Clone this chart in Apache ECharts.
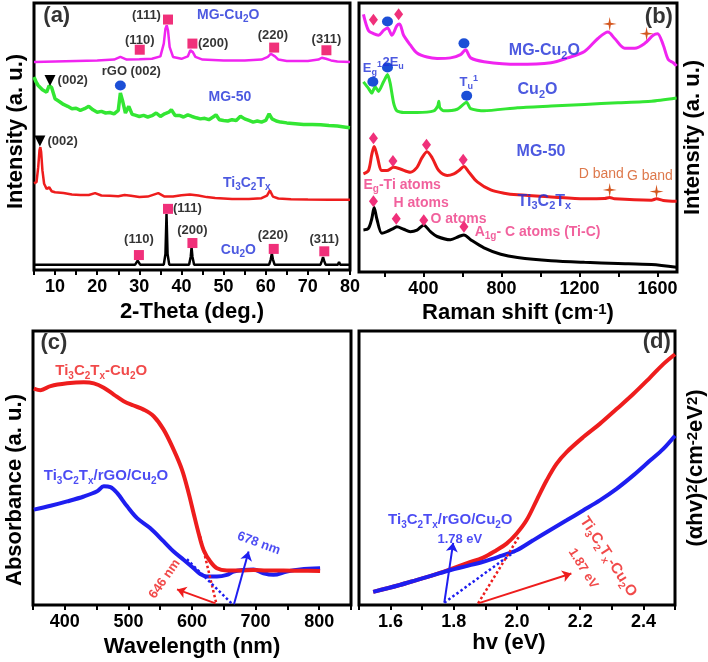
<!DOCTYPE html>
<html><head><meta charset="utf-8">
<script src="https://cdn.jsdelivr.net/npm/echarts@6/dist/echarts.min.js"></script>
<style>html,body{margin:0;padding:0;background:#fff}#c{width:708px;height:662px}</style>
</head><body><div id="c"></div>
<script>
// ---------- Panel (a): XRD ----------
const aCu2O_x = [5, 29.0, 29.6, 30.2, 35.8, 36.2, 36.45, 36.7, 37.1, 41.8, 42.2, 42.4, 42.6, 43.0, 60.8, 61.2, 61.45, 61.7, 62.1, 73.0, 73.35, 73.6, 73.85, 74.2, 77.1, 77.4, 77.7, 80];
const aCu2O_y = [2.0, 2.0, 3.5, 2.0, 2.0, 6, 21, 6, 2.0, 2.0, 5, 8.5, 5, 2.0, 2.0, 4, 6.2, 4, 2.0, 2.0, 3.5, 4.8, 3.5, 2.0, 2.0, 3.0, 2.0, 2.0];
const aTi_x = [5, 5.6, 6.0, 6.3, 6.5, 6.7, 7.0, 7.4, 8.0, 8.6, 9.2, 10, 12, 14, 16, 18, 19.5, 21, 23, 25, 26.5, 28, 30, 32, 34.5, 36, 38, 40, 42, 44, 46, 48, 52, 56, 59, 60.3, 61, 61.7, 63, 66, 70, 75, 80];
const aTi_y = [32.5, 32.9, 38.5, 44.8, 46, 44.1, 37.3, 32.3, 30.4, 31, 29.5, 29.1, 28.8, 28.3, 28.1, 28.1, 28.8, 27.9, 27.8, 27.6, 28.1, 27.8, 27.3, 27.5, 28.8, 27.5, 27.5, 28, 28.3, 27.9, 27.3, 27, 26.6, 26.6, 26.9, 27.9, 29.8, 27.5, 26.8, 26.5, 26.4, 26.3, 26.3];
const aMG50_x = [5, 5.5, 6, 7, 8, 8.6, 9.2, 10, 11, 12, 13, 14, 15, 16, 17, 18, 19, 20, 21, 22, 23, 24, 25, 25.5, 26, 26.7, 27.5, 28.3, 29, 30, 31, 32, 33, 34, 35, 36, 37, 37.6, 38.5, 39.5, 40.5, 41.5, 42.5, 43.5, 44.5, 45.5, 46.5, 47.5, 48.2, 49, 50, 51, 52, 53, 54, 55, 56, 57, 58, 59, 60, 60.8, 61.5, 62.5, 63.5, 65, 67, 69, 71, 73, 75, 77, 79, 80];
const aMG50_y = [72.3, 70.4, 69.1, 67.5, 66.6, 69.1, 68.3, 64.1, 63.1, 62, 61.3, 60.4, 60.6, 59.8, 60.4, 61.3, 60, 59.1, 59.4, 58.8, 59, 58.5, 59.8, 66.3, 63.5, 58.8, 61.3, 58.3, 58, 57.5, 57.9, 57.3, 57.8, 58.8, 57.5, 58.5, 59.1, 60, 57.9, 57.9, 57.3, 58.1, 57.5, 57, 56.6, 56.8, 56.3, 57.3, 58.1, 56.3, 56, 55.8, 56.3, 56, 57.6, 56.6, 56, 55.4, 55.8, 55.4, 56, 58.5, 56.6, 55.8, 55.4, 55.1, 54.8, 54.5, 54.5, 54.4, 54.1, 53.9, 53.5, 53.3];
const aMGCu_x = [5, 10, 15, 20, 24, 25.5, 27, 30, 33, 35, 35.8, 36.2, 36.5, 36.8, 37.2, 38, 40, 41.5, 42.1, 42.4, 42.7, 43.3, 45, 50, 55, 59, 60.5, 61.2, 61.6, 62.2, 63, 65, 70, 72.5, 73.3, 73.7, 74.3, 75.5, 77, 80];
const aMGCu_y = [77.9, 78.1, 78.3, 78.5, 78.8, 79.8, 78.8, 78.9, 79.1, 80, 84.8, 90.4, 91.6, 89.8, 83.5, 79.8, 79.1, 80, 82.3, 82.5, 81.6, 79.8, 78.8, 78.5, 78.5, 78.8, 79.8, 81, 81.3, 80, 78.8, 78.3, 78.3, 78.8, 79.5, 79.8, 79.1, 78.5, 78.1, 77.9];
const aSquares = [[30.1, 82.5], [36.8, 93.8], [42.6, 84.8], [62.0, 83.3], [74.4, 82.3], [29.9, 5.6], [36.8, 22.9], [42.6, 10.1], [61.9, 7.9], [73.9, 7.0]];
const aTriangles = [[8.8, 71], [6.4, 48.3]];
const aCircles = [[25.5, 69.1]];
const aTicks = [10, 20, 30, 40, 50, 60, 70, 80];

// ---------- Panel (b): Raman ----------
const bMGCu_x = [92.7, 118.4, 144.2, 169.9, 195.7, 216.3, 238.6, 264.4, 278.1, 298.7, 333, 367.4, 418.9, 470.4, 539.1, 590.6, 616.3, 642.1, 710.8, 882.5, 1054.2, 1140, 1225.9, 1294.6, 1346, 1380.5, 1431.9, 1483.4, 1534.9, 1577.9, 1600.2, 1629.4, 1655.1, 1680.9, 1698];
const bMGCu_y = [95.8, 89.8, 88.6, 88, 89.8, 90.7, 88, 91.6, 92.2, 88, 84.4, 81.4, 79.9, 79.4, 79.6, 80.8, 82.6, 79.6, 78.2, 77.2, 77.8, 79.6, 82, 86.8, 89.2, 86.8, 83.2, 83.2, 85, 88, 88.6, 84.4, 79, 77.8, 76.6];
const bCu2O_x = [92.7, 118.4, 135.6, 152.7, 169.9, 195.7, 216.3, 230, 247.2, 264.4, 298.7, 367.4, 453.2, 473.8, 479, 484.1, 504.7, 573.4, 621.5, 642.1, 710.8, 882.5, 1054.2, 1225.9, 1397.6, 1569.3, 1698];
const bCu2O_y = [70.7, 68.3, 66.5, 68.9, 67.1, 70.7, 73.4, 70.1, 62.9, 59.9, 59.3, 59.3, 59.9, 61.7, 63.5, 61.1, 59.9, 60.5, 63.1, 60.7, 59.9, 61.1, 61.7, 62.3, 62.9, 63.5, 64.7];
const bMG50_x = [92.7, 118.4, 135.6, 147.6, 161.3, 187.1, 212.8, 247.2, 281.5, 333, 367.4, 393.1, 418.9, 444.6, 479, 521.9, 556.2, 582, 607.8, 633.5, 676.4, 745.1, 813.8, 882.5, 1054.2, 1225.9, 1328.9, 1354.7, 1380.5, 1569.3, 1595, 1629.4, 1698];
const bMG50_y = [36.5, 37.7, 43.7, 46.7, 43.7, 37.7, 37.7, 38.9, 38.3, 37.1, 38.9, 42.5, 44.7, 42.5, 37.7, 35.9, 36.5, 37.7, 39.2, 37.1, 33.5, 30.5, 29.3, 28.7, 27.9, 27.2, 27.3, 27.7, 27.2, 26.7, 27.2, 26.6, 26.3];
const bTi_x = [92.7, 118.4, 135.6, 147.6, 161.3, 187.1, 212.8, 247.2, 264.4, 298.7, 333, 367.4, 401.7, 436.1, 470.4, 539.1, 582, 607.8, 642.1, 710.8, 796.6, 882.5, 1054.2, 1225.9, 1397.6, 1569.3, 1698];
const bTi_y = [15.6, 16.2, 19.8, 24, 19.8, 14.4, 15, 16.2, 16.8, 15.9, 15, 15.6, 17.4, 15, 13.2, 12, 13.2, 13.8, 12, 9, 6.6, 5.4, 4.2, 3.6, 3.2, 2.8, 1.8];
const bDiamonds = [[144, 93.8], [273, 95.8], [144, 49.7], [244, 41.3], [416, 47.3], [604, 41.7], [144, 26.3], [261, 19.8], [402, 19.2], [608, 16.8]];
const bCircles = [[216, 93.1], [608, 85], [141, 70.7], [216, 76], [622, 65.5]];
const bStars = [[1355, 92.2], [1544, 88.6], [1355, 30.5], [1595, 29.9]];
const bTickVals = [200, 400, 600, 800, 1000, 1200, 1400, 1600];
const bLabelVals = [400, 800, 1200, 1600];

// ---------- Panel (c): absorbance ----------
const cRed_x = [351.3, 361.9, 377.6, 403.7, 429.9, 445.6, 461.3, 477, 492.6, 508.3, 524, 539.7, 555.4, 571.1, 584.2, 594.7, 602.5, 610.4, 618.2, 628.7, 639.2, 654.9, 675.8, 696.7, 717.6, 743.8, 770, 801.4];
const cRed_y = [79, 78.4, 79.9, 80.9, 81.3, 80.9, 79.3, 76.8, 74.4, 72.8, 71.3, 68.9, 64, 56.7, 49.4, 40.9, 33.5, 26.2, 20.1, 15.9, 13.4, 12.6, 12.6, 12.8, 12.6, 12.6, 12.5, 12.4];
const cBlue_x = [351.3, 377.6, 403.7, 429.9, 450.9, 461.3, 471.7, 482.2, 498, 513.7, 534.5, 555.4, 571.1, 586.8, 602.5, 613, 623.5, 639.2, 654.9, 665.3, 681, 696.7, 712.4, 728.1, 749, 770, 801.4];
const cBlue_y = [34.8, 36.2, 37.8, 39.6, 41.5, 43.3, 43, 40.9, 36, 31.7, 28, 23.2, 19.5, 16.5, 13.4, 11.3, 10.4, 10.4, 11, 12.2, 12.8, 13, 11.6, 11, 12.2, 13, 13.4];
const cTangents = [[[613, 25], [638.5, 0.3], '#ee1d1d'], [[592, 16.7], [663, 0.4], '#1e1ef0']];
const cArrows = [[[637, 0.6], [576.5, 5.7], '#ee1d1d'], [[666, 0.3], [689, 19.5], '#1e1ef0']];

// ---------- Panel (d): Tauc plot ----------
const dRed_x = [1.545, 1.629, 1.682, 1.735, 1.788, 1.840, 1.893, 1.935, 1.967, 1.999, 2.030, 2.062, 2.094, 2.125, 2.157, 2.209, 2.262, 2.315, 2.368, 2.421, 2.463, 2.5];
const dRed_y = [4.8, 7.3, 9.1, 10.9, 13, 15.2, 17.3, 20, 22.4, 26.1, 30.9, 38.2, 45.5, 51.5, 55.8, 61.2, 66.1, 71.5, 77, 83, 87.9, 91.5];
const dBlue_x = [1.545, 1.629, 1.682, 1.735, 1.788, 1.840, 1.893, 1.946, 1.999, 2.051, 2.104, 2.157, 2.209, 2.262, 2.315, 2.368, 2.421, 2.463, 2.5];
const dBlue_y = [4.8, 7.3, 9.1, 10.9, 12.7, 14.2, 15.8, 17.8, 20, 23.6, 27.3, 30.9, 34.5, 38.2, 42.4, 47.3, 52.7, 57, 61.8];
const dTangents = [[[1.770, 0.85], [1.999, 20], '#1e1ef0'], [[1.877, 0.6], [2.009, 25.5], '#ee1d1d']];
const dArrows = [[[1.770, 0.85], [1.798, 22.7], '#1e1ef0'], [[1.877, 0.6], [2.172, 11.5], '#ee1d1d']];

// ---------- styles ----------
const FF = '"Liberation Sans", Arial, Helvetica, sans-serif';
const MAG = '#f024f0', GRN = '#33e633', RED = '#ee1d1d', BLK = '#000000', BLU = '#1e1ef0';
const TBLU = '#1f2fd8', PINK = '#f0307a', CIRC = '#1c4fd6', ORG = '#d4561e', PINKT = '#ee3a84';

function rt(s) {
  return s.replace(/([_^])(\{[^}]*\}|.)/g, (m, t, c) => {
    c = c[0] === '{' ? c.slice(1, -1) : c;
    return '{' + (t === '_' ? 'sub' : 'sup') + '|' + c + '}';
  });
}
function richFor(fs, color, weight) {
  const sfs = Math.round(fs * 0.68), slh = Math.round(fs * 0.8);
  return {
    sub: { fontSize: sfs, lineHeight: slh, verticalAlign: 'bottom', color: color, fontWeight: weight, fontFamily: FF },
    sup: { fontSize: sfs, lineHeight: slh, verticalAlign: 'top', color: color, fontWeight: weight, fontFamily: FF }
  };
}
function textSeries(gi, items) {
  return {
    type: 'scatter', xAxisIndex: gi, yAxisIndex: gi, symbol: 'circle', symbolSize: 1, silent: true, z: 20,
    itemStyle: { color: 'rgba(0,0,0,0)' },
    data: items.map(it => {
      const [x, y, txt, color, fs, weight, align, rot] = it;
      const w = weight || 'bold';
      const str = rt(txt);
      return {
        value: [x, y],
        label: {
          show: true, position: 'inside', formatter: () => str, color: color, fontSize: fs, fontWeight: w,
          fontFamily: FF, align: align || 'center', verticalAlign: 'middle', rotate: rot || 0,
          lineHeight: Math.round(fs * 1.3), rich: richFor(fs, color, w)
        }
      };
    })
  };
}
function curve(gi, xs, ys, color, width, smooth, z) {
  return {
    type: 'line', xAxisIndex: gi, yAxisIndex: gi, data: xs.map((x, i) => [x, ys[i]]),
    symbol: 'none', showSymbol: false, lineStyle: { color: color, width: width }, itemStyle: { color: color },
    smooth: smooth || false, z: z || 2, silent: true
  };
}
function markers(gi, pts, symbol, size, color, rotate) {
  return {
    type: 'scatter', xAxisIndex: gi, yAxisIndex: gi, data: pts, symbol: symbol, symbolSize: size,
    symbolRotate: rotate || 0, itemStyle: { color: color, opacity: 1 }, silent: true, z: 8
  };
}
function guides(tangents, arrows) {
  const data = [];
  tangents.forEach(t => data.push([
    { coord: t[0], symbol: 'none', lineStyle: { color: t[2], type: 'dotted', width: 2.5 } },
    { coord: t[1], symbol: 'none' }]));
  arrows.forEach(a => data.push([
    { coord: a[0], symbol: 'none', lineStyle: { color: a[2], type: 'solid', width: 2 }, itemStyle: { color: a[2] } },
    { coord: a[1], symbol: 'arrow', symbolSize: 9, itemStyle: { color: a[2] } }]));
  return { silent: true, animation: false, label: { show: false }, emphasis: { disabled: true }, data: data };
}
const nameStyle = (extra) => Object.assign({
  fontSize: 22, fontWeight: 'bold', color: '#000', fontFamily: FF,
  rich: richFor(22, '#000', 'bold')
}, extra || {});
const tickStyle = { show: true, length: 5, lineStyle: { width: 2, color: '#000' } };
const labStyle = { fontSize: 18, fontWeight: 'bold', color: '#000', fontFamily: FF, margin: 8, showMinLabel: true, showMaxLabel: true, hideOverlap: false };

function xAxisCfg(gi, extra) {
  return Object.assign({
    gridIndex: gi, type: 'value', axisLine: { show: false }, splitLine: { show: false },
    nameLocation: 'middle'
  }, extra);
}
function yAxisCfg(gi, name, pos, gap, style) {
  return {
    gridIndex: gi, type: 'value', min: 0, max: 100, position: pos, axisLine: { show: false },
    axisTick: { show: false }, axisLabel: { show: false }, splitLine: { show: false },
    name: name, nameLocation: 'middle', nameRotate: 90, nameGap: gap, nameTextStyle: style
  };
}

const gridStyle = { show: true, borderColor: '#000', borderWidth: 3, backgroundColor: 'transparent' };

const option = {
  animation: false,
  backgroundColor: '#fff',
  grid: [
    Object.assign({ left: 34, top: 3, width: 316, height: 267 }, gridStyle),
    Object.assign({ left: 359, top: 3, width: 318, height: 269 }, gridStyle),
    Object.assign({ left: 33, top: 331, width: 318, height: 274 }, gridStyle),
    Object.assign({ left: 359, top: 331, width: 316, height: 274 }, gridStyle)
  ],
  xAxis: [
    xAxisCfg(0, {
      min: 5, max: 80, interval: 5, axisTick: tickStyle,
      axisLabel: Object.assign({}, labStyle, { formatter: v => (aTicks.indexOf(Math.round(v)) >= 0 && Math.abs(v - Math.round(v)) < 1e-6) ? String(Math.round(v)) : '' }),
      name: '2-Theta (deg.)', nameGap: 31, nameTextStyle: nameStyle()
    }),
    xAxisCfg(1, {
      min: 70, max: 1700, axisTick: Object.assign({}, tickStyle, { customValues: bTickVals }),
      axisLabel: Object.assign({}, labStyle, { customValues: bLabelVals, formatter: v => String(Math.round(v)) }),
      name: 'Raman shift (cm{sup|-1})', nameGap: 30, nameTextStyle: nameStyle()
    }),
    xAxisCfg(2, {
      min: 350, max: 850, interval: 50, axisTick: tickStyle,
      axisLabel: Object.assign({}, labStyle, { formatter: v => { const r = Math.round(v); return (r % 100 === 0 && r >= 400 && r <= 800) ? String(r) : ''; } }),
      name: 'Wavelength (nm)', nameGap: 31, nameTextStyle: nameStyle()
    }),
    xAxisCfg(3, {
      min: 1.5, max: 2.5, interval: 0.1, axisTick: tickStyle,
      axisLabel: Object.assign({}, labStyle, { formatter: v => { const r = Math.round(v * 10); return (r % 2 === 0 && r >= 16 && r <= 24) ? (r / 10).toFixed(1) : ''; } }),
      name: 'hv (eV)', nameGap: 26, nameTextStyle: nameStyle({ padding: [0, 16, 0, 0] })
    })
  ],
  yAxis: [
    yAxisCfg(0, 'Intensity (a. u.)', 'left', 7, nameStyle({ padding: [0, 0, 0, 10] })),
    yAxisCfg(1, 'Intensity (a. u.)', 'right', 5, nameStyle()),
    yAxisCfg(2, 'Absorbance (a. u.)', 'left', 7, nameStyle({ padding: [0, 44, 0, 0] })),
    yAxisCfg(3, '(\u03b1hv){sup|2}(cm{sup|-2}eV{sup|2})', 'right', 10, nameStyle())
  ],
  series: [
    // (a)
    curve(0, aCu2O_x, aCu2O_y, BLK, 2.5),
    curve(0, aTi_x, aTi_y, RED, 2.5),
    curve(0, aMG50_x, aMG50_y, GRN, 3.5),
    curve(0, aMGCu_x, aMGCu_y, MAG, 2.5),
    markers(0, aSquares, 'rect', 10, PINK),
    markers(0, aTriangles, 'triangle', 11, BLK, 180),
    markers(0, aCircles, 'circle', [11, 10], CIRC),
    textSeries(0, [
      [30.1, 86, '(110)', BLK, 13], [31.7, 95.4, '(111)', BLK, 13], [47.5, 85, '(200)', BLK, 13],
      [61.7, 87.9, '(220)', BLK, 13], [74.4, 86.3, '(311)', BLK, 13], [14.2, 71, '(002)', BLK, 13],
      [28.1, 74.5, 'rGO (002)', BLK, 13], [11.8, 48.3, '(002)', BLK, 13], [29.9, 11.3, '(110)', BLK, 13],
      [41.4, 22.9, '(111)', BLK, 13], [42.6, 14.8, '(200)', BLK, 13], [61.7, 13.1, '(220)', BLK, 13],
      [73.9, 11.3, '(311)', BLK, 13],
      [51.1, 95.4, 'MG-Cu_2O', TBLU, 14], [51.5, 64.8, 'MG-50', TBLU, 14],
      [55.5, 32.5, 'Ti_3C_2T_x', TBLU, 14], [53.5, 7.5, 'Cu_2O', TBLU, 14],
      [10.4, 95.3, '(a)', BLK, 22]
    ]),
    // (b)
    curve(1, bTi_x, bTi_y, BLK, 3, 0.3),
    curve(1, bMG50_x, bMG50_y, RED, 3, 0.3),
    curve(1, bCu2O_x, bCu2O_y, GRN, 3, 0.2),
    curve(1, bMGCu_x, bMGCu_y, MAG, 3, 0.3),
    markers(1, bDiamonds, 'diamond', [9, 12], PINK),
    markers(1, bCircles, 'circle', [11, 10], CIRC),
    markers(1, bStars, 'path://M50,0 L58,42 L100,50 L58,58 L50,100 L42,58 L0,50 L42,42 Z', 14, ORG),
    textSeries(1, [
      [139, 75.7, 'E_g^1', TBLU, 13], [245, 77.8, '2E_u', TBLU, 13], [633, 70.3, 'T_u^1', TBLU, 13],
      [1312, 36.2, 'D band', ORG, 14, 'normal'], [1561, 35.6, 'G band', ORG, 14, 'normal'],
      [93, 32.3, 'E_g-Ti atoms', PINKT, 14, 'bold', 'left'], [247, 25.5, 'H atoms', PINKT, 14, 'bold', 'left'],
      [436, 19.5, 'O atoms', PINKT, 14, 'bold', 'left'], [663, 14.7, 'A_{1g}- C atoms (Ti-C)', PINKT, 14, 'bold', 'left'],
      [1020, 82.3, 'MG-Cu_2O', TBLU, 16], [985, 67.7, 'Cu_2O', TBLU, 16],
      [1003, 44.9, 'MG-50', TBLU, 16], [1020, 26.3, 'Ti_3C_2T_x', TBLU, 16],
      [1607, 95, '(b)', BLK, 22]
    ]),
    // (c)
    curve(2, cBlue_x, cBlue_y, BLU, 4, 0.35),
    Object.assign(curve(2, cRed_x, cRed_y, RED, 4, 0.35, 3), { markLine: guides(cTangents, cArrows) }),
    textSeries(2, [
      [385, 85.4, 'Ti_3C_2T_x-Cu_2O', RED, 15, 'bold', 'left'],
      [367, 47, 'Ti_3C_2T_x/rGO/Cu_2O', BLU, 15, 'bold', 'left'],
      [557, 9.5, '646 nm', RED, 13, 'bold', 'center', 55],
      [705, 22.5, '678 nm', BLU, 13, 'bold', 'center', -20],
      [383, 95.5, '(c)', BLK, 22]
    ]),
    // (d)
    curve(3, dRed_x, dRed_y, RED, 4, 0.35),
    Object.assign(curve(3, dBlue_x, dBlue_y, BLU, 4, 0.35, 3), { markLine: guides(dTangents, dArrows) }),
    textSeries(3, [
      [1.592, 30.9, 'Ti_3C_2T_x/rGO/Cu_2O', BLU, 15, 'bold', 'left'],
      [1.819, 24, '1.78 eV', BLU, 13],
      [2.289, 17.6, 'Ti_3C_2T_x-Cu_2O', RED, 15, 'bold', 'center', -57],
      [2.209, 13.3, '1.87 eV', RED, 13, 'bold', 'center', -58],
      [2.442, 96.1, '(d)', BLK, 22]
    ])
  ]
};

const chart = echarts.init(document.getElementById('c'), null, { renderer: 'canvas' });
chart.setOption(option);
</script>
</body></html>
